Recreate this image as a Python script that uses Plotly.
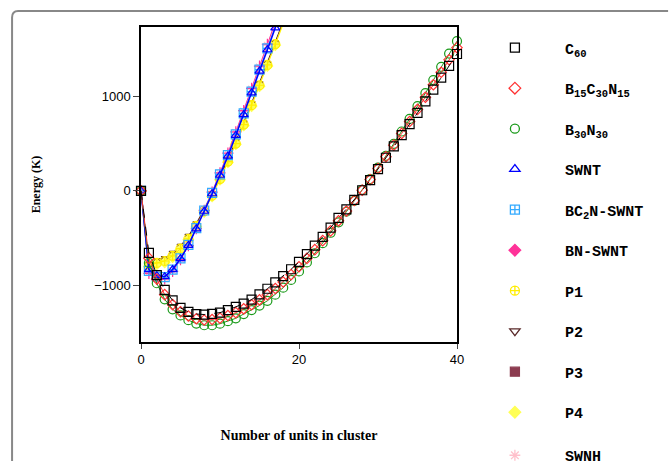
import plotly.graph_objects as go

n_low = list(range(0, 41))
n_up = list(range(0, 19))

c60 = [0, -655, -890, -1045, -1155, -1235, -1278, -1300, -1305, -1298, -1285, -1258, -1225, -1190,
       -1147, -1092, -1033, -965, -900, -827, -750, -668, -578, -486, -388, -285, -196, -95, 7, 113,
       229, 350, 470, 588, 704, 824, 945, 1070, 1195, 1320, 1445]
b15c30n15 = [0, -710, -930, -1095, -1200, -1275, -1320, -1350, -1362, -1358, -1343, -1316, -1285, -1245,
             -1202, -1150, -1095, -1030, -961, -884, -800, -712, -620, -525, -422, -316, -212, -102, 8, 119,
             237, 360, 483, 607, 732, 860, 988, 1120, 1252, 1385, 1512]
b30n30 = [0, -760, -975, -1145, -1250, -1315, -1365, -1400, -1418, -1418, -1402, -1375, -1345, -1300,
          -1258, -1210, -1160, -1095, -1022, -940, -850, -755, -658, -552, -442, -332, -220, -106, 10, 125,
          245, 370, 497, 627, 760, 895, 1032, 1170, 1310, 1450, 1580]

swnt = [0, -830, -895, -905, -830, -715, -575, -400, -215, -30, 165, 366, 585, 805, 1035, 1265, 1490, 1720, 1955]
bc2n_swnt = [0, -845, -905, -910, -830, -712, -570, -393, -207, -20, 175, 378, 597, 818, 1048, 1280, 1505, 1735, 1970]
bn_swnt = [0, -870, -935, -930, -850, -725, -578, -398, -205, -12, 190, 398, 622, 848, 1083, 1318, 1548, 1782, 2020]
p1 = [0, -790, -760, -740, -685, -610, -505, -370, -215, -50, 125, 310, 500, 700, 905, 1115, 1330, 1550, 1770]
p2 = [0, -770, -730, -710, -655, -580, -475, -342, -190, -25, 150, 335, 525, 722, 928, 1138, 1350, 1568, 1790]
p3 = [0, -780, -745, -722, -668, -592, -488, -355, -200, -35, 140, 325, 515, 712, 918, 1128, 1340, 1558, 1780]
p4 = [0, -800, -775, -755, -700, -620, -515, -380, -222, -58, 118, 302, 492, 690, 895, 1105, 1318, 1538, 1758]
swnh = [0, -860, -925, -920, -842, -720, -574, -396, -206, -15, 185, 392, 615, 840, 1074, 1308, 1537, 1770, 2005]

x_ticks = [0, 20, 40]
y_ticks = [-1000, 0, 1000]

# drawing order (bottom first): name -> (x, y, color, symbol, dash, line width, marker size, clip)
series = {
    "P3": (n_up, p3, "#8c3c50", "square", "solid", 1, 5, True),
    "P2": (n_up, p2, "#5a2a2a", "triangle-down-open", "solid", 1, 6, True),
    "P4": (n_up, p4, "#ffff55", "diamond", "solid", 1, 8, True),
    "P1": (n_up, p1, "#ffee00", "circle-cross-open", "solid", 1, 9, True),
    "SWNH": (n_up, swnh, "#ffc0cb", "asterisk-open", "solid", 1, 8, True),
    "BN-SWNT": (n_up, bn_swnt, "#ff3399", "cross-thin-open", "solid", 1, 8, True),
    "BC<sub>2</sub>N-SWNT": (n_up, bc2n_swnt, "#33aaff", "square-cross-open", "solid", 1, 9, True),
    "SWNT": (n_up, swnt, "#0000ff", "triangle-up-open", "solid", 1.5, 8, True),
    "B<sub>30</sub>N<sub>30</sub>": (n_low, b30n30, "#1a9a1a", "circle-open", "solid", 1, 9, False),
    "B<sub>15</sub>C<sub>30</sub>N<sub>15</sub>": (n_low, b15c30n15, "#ff3333", "diamond-open", "solid", 1, 8, False),
    "C<sub>60</sub>": (n_low, c60, "#000000", "square-open", "dash", 1, 9, False),
}

legend_order = ["C<sub>60</sub>", "B<sub>15</sub>C<sub>30</sub>N<sub>15</sub>", "B<sub>30</sub>N<sub>30</sub>",
                "SWNT", "BC<sub>2</sub>N-SWNT", "BN-SWNT", "P1", "P2", "P3", "P4", "SWNH"]
legend_symbols = {"BN-SWNT": "diamond-cross", "P3": "square", "P4": "diamond"}

fig = go.Figure()
for name, (xs, ys, col, sym, dash, lw, ms, clip) in series.items():
    fig.add_trace(go.Scatter(
        x=xs, y=ys, name=name, mode="lines+markers", showlegend=False,
        line=dict(color=col, width=lw, dash=dash),
        marker=dict(symbol=sym, size=ms, color=col, line=dict(color=col, width=1.2)),
        cliponaxis=clip,
    ))

for i, name in enumerate(legend_order):
    xs, ys, col, sym, dash, lw, ms, clip = series[name]
    fig.add_trace(go.Scatter(
        x=[None], y=[None], name="<b>" + name + "</b>", mode="markers",
        marker=dict(symbol=legend_symbols.get(name, sym), size=9, color=col,
                    line=dict(color=col, width=1.3)),
        legendgroup=name, legendrank=i + 1,
        legend="legend2" if name == "SWNH" else "legend",
    ))

legend_font = dict(family="Liberation Mono", size=15, color="black")
fig.update_layout(
    width=670, height=461,
    margin=dict(l=141, r=213, t=27, b=119, autoexpand=False),
    paper_bgcolor="white", plot_bgcolor="white",
    font=dict(family="Liberation Sans", size=13, color="black"),
    showlegend=True,
    legend=dict(x=1.025, y=0.986, xanchor="left", yanchor="top", font=legend_font,
                tracegroupgap=18, itemwidth=90, bgcolor="rgba(0,0,0,0)", maxheight=460),
    legend2=dict(x=1.025, y=-0.308, xanchor="left", yanchor="top", font=legend_font,
                 itemwidth=90, bgcolor="rgba(0,0,0,0)", maxheight=200),
)
fig.update_xaxes(range=[0, 40], tickvals=x_ticks, ticks="outside", ticklen=5,
                 showline=True, linecolor="black", linewidth=1.5, mirror=True,
                 showgrid=False, zeroline=False,
                 title=dict(text="<b>Number of units in cluster</b>", standoff=64,
                            font=dict(family="Liberation Serif", size=14, color="black")))
fig.update_yaxes(range=[-1595, 1730], tickvals=y_ticks, ticks="outside", ticklen=6,
                 showline=True, linecolor="black", linewidth=1.5, mirror=True,
                 showgrid=False, zeroline=False,
                 title=dict(text="<b>Energy (K)</b>", standoff=51,
                            font=dict(family="Liberation Serif", size=12, color="black")))

# outer frame (top and left edges of the surrounding card)
fig.add_shape(type="path", xref="paper", yref="paper",
              path="M -0.408,-0.5 L -0.408,1.03 Q -0.408,1.0508 -0.389,1.0508 L 1.668,1.0508",
              line=dict(color="#888888", width=2))

fig.write_html("out.html", post_script="document.body.style.margin='0px';",
               config={"displayModeBar": False})
